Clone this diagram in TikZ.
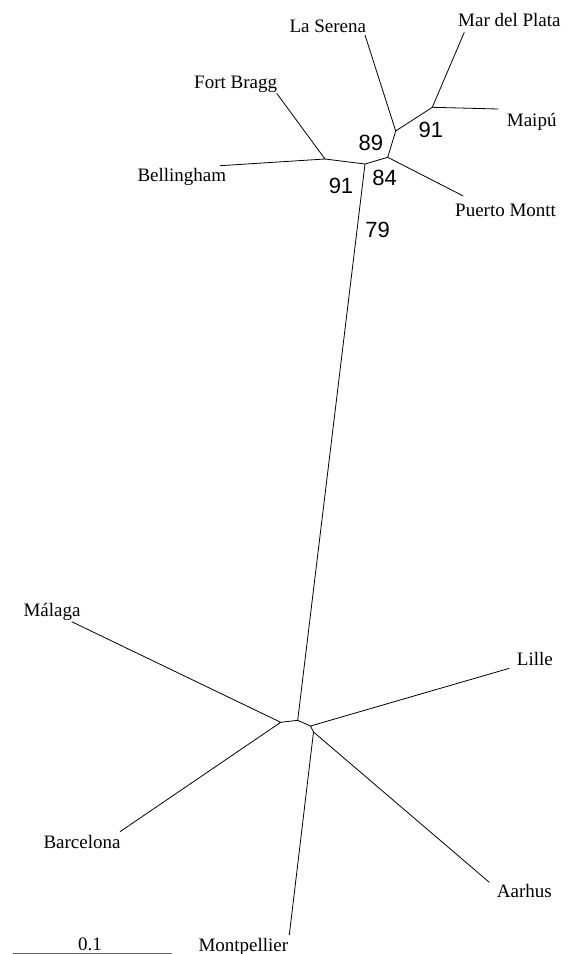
\documentclass[tikz,border=0pt]{standalone}
\usepackage{fontspec}
\setmainfont{Liberation Serif}
\newfontfamily\numfont{Liberation Sans}
\begin{document}
\begin{tikzpicture}[x=1pt,y=-1pt,
  branch/.style={line width=0.8pt,black},
  leaflabel/.style={inner sep=0pt,anchor=base west,font=\fontsize{19}{23}\selectfont},
  support/.style={inner sep=0pt,anchor=base,font=\numfont\fontsize{22}{26}\selectfont},
  scalebar/.style={line width=0.8pt,black!60}]
\useasboundingbox (0,0) rectangle (568,954);
% internal nodes, top cluster
\coordinate (A) at (325,159);
\coordinate (B) at (365,164);
\coordinate (C) at (387.7,157.3);
\coordinate (D) at (395.7,131);
\coordinate (E) at (432.3,107.3);
% internal nodes, bottom cluster
\coordinate (F) at (280.7,722.3);
\coordinate (G) at (297.7,720.3);
\coordinate (H) at (310.5,726);
\coordinate (I) at (313.5,732);
% leaf ends
\coordinate (bel) at (220,165.7);
\coordinate (fb) at (276.7,93.3);
\coordinate (ls) at (365,35);
\coordinate (mdp) at (464.3,32.3);
\coordinate (mai) at (498.3,109);
\coordinate (pm) at (463.3,196);
\coordinate (mal) at (71.7,621.7);
\coordinate (bar) at (120,831.7);
\coordinate (lil) at (509.3,668.3);
\coordinate (aar) at (489.3,882.3);
\coordinate (mon) at (289.3,935);
% branches
\draw[branch] (bel) -- (A) -- (fb);
\draw[branch] (A) -- (B) -- (C) -- (D) -- (ls);
\draw[branch] (C) -- (pm);
\draw[branch] (D) -- (E) -- (mdp);
\draw[branch] (E) -- (mai);
\draw[branch] (B) -- (G);
\draw[branch] (mal) -- (F) -- (bar);
\draw[branch] (F) -- (G) -- (H) -- (lil);
\draw[branch] (H) -- (I) -- (aar);
\draw[branch] (I) -- (mon);
% leaf labels
\node[leaflabel] (tmdp) at (458,26.7) {Mar del Plata};
\node[leaflabel] (tls) at (289.3,32.7) {La Serena};
\node[leaflabel] (tfb) at (194,88.3) {Fort Bragg};
\node[leaflabel] (tmai) at (506.7,126.7) {Maipú};
\node[leaflabel] (tbel) at (137.3,181.7) {Bellingham};
\node[leaflabel] (tpm) at (455,216.7) {Puerto Montt};
\node[leaflabel] (tmal) at (23.3,616) {Málaga};
\node[leaflabel] (tlil) at (516.7,665) {Lille};
\node[leaflabel] (tbar) at (43.3,848.3) {Barcelona};
\node[leaflabel] (taar) at (496.7,897.3) {Aarhus};
\node[leaflabel] (tmon) at (198.3,951.7) {Montpellier};
% support values
\node[support] (s89) at (370.8,150) {89};
\node[support] (s91a) at (430.8,137.3) {91};
\node[support] (s91b) at (341,193.3) {91};
\node[support] (s84) at (384.7,185) {84};
\node[support] (s79) at (377.7,237.3) {79};
% scale bar
\coordinate (sb1) at (12.7,953.3);
\coordinate (sb2) at (171.7,953.3);
\draw[scalebar] (sb1) -- (sb2);
\node[inner sep=0pt,anchor=base,font=\fontsize{19}{23}\selectfont] (sbl) at (90,950) {0.1};
\end{tikzpicture}
\end{document}
